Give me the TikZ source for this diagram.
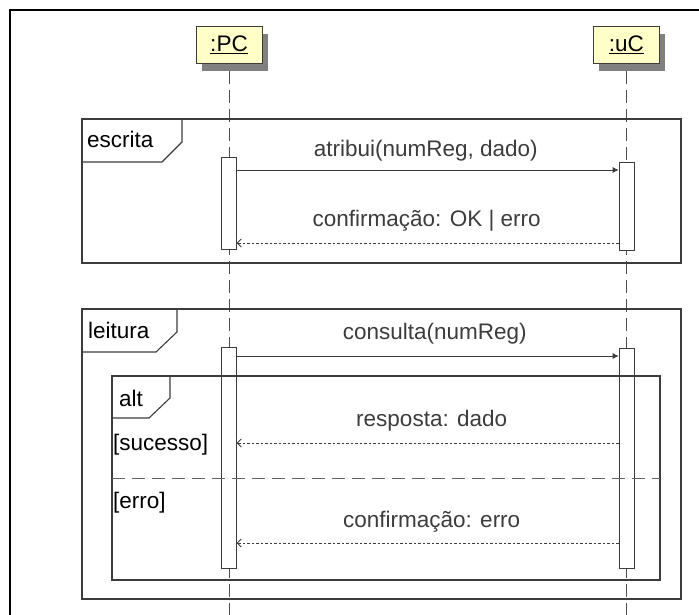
\documentclass[tikz,border=0pt]{standalone}
\usepackage{fontspec}
\setmainfont{Liberation Sans}
\usetikzlibrary{arrows.meta,positioning,shadows}
\definecolor{headyellow}{HTML}{FFFFC8}
\definecolor{seqgray}{HTML}{3C3C3C}
\newcommand{\seqfont}{\fontsize{22.5}{27}\selectfont}
\tikzset{
    seqhead/.style={draw=seqgray, fill=headyellow, minimum width=66pt, minimum height=37pt,
        inner sep=0pt, font=\seqfont,
        drop shadow={shadow xshift=6pt, shadow yshift=-8pt, fill=black!50, opacity=1}},
    seqact/.style={draw=seqgray, fill=white, minimum width=15pt, inner sep=0pt, anchor=north},
    seqlife/.style={seqgray!90, line width=1pt, dash pattern=on 13pt off 6pt},
    seqframe/.style={draw=seqgray, line width=1.1pt},
    seqarrow/.style={-{Latex[length=6pt,width=6pt]}, line width=0.9pt, seqgray},
    seqreply/.style={-{Straight Barb[length=4pt,width=8pt]}, line width=0.8pt, seqgray,
        dash pattern=on 2.5pt off 2pt},
    seqtxt/.style={font=\seqfont, inner sep=0pt, anchor=base}
}

\begin{document}
\begin{tikzpicture}[x=1pt, y=-1pt]
\useasboundingbox (0,0) rectangle (699,615);
\draw[line width=2pt] (10,615) -- (10,10) -- (699,10);
\coordinate (bottom) at (0,615);

% lifelines
\node[seqhead] (pc) at (229,44.5) {\underline{:PC}};
\node[seqhead, right=331pt of pc] (uc) {\underline{:uC}};
\draw[seqlife] ([yshift=-8pt]pc.south) -- (pc |- bottom);
\draw[seqlife] ([yshift=-8pt]uc.south) -- (uc |- bottom);

% activations
\node[seqact, minimum height=92pt] (pcw) at (pc |- 0,157) {};
\node[seqact, minimum height=88pt] (ucw) at (uc |- 0,162) {};
\node[seqact, minimum height=221pt] (pcr) at (pc |- 0,347) {};
\node[seqact, minimum height=220pt] (ucr) at (uc |- 0,348) {};

% frame escrita
\draw[seqframe] (82,119) rectangle (681,263);
\draw[seqframe] (82,162) -- (162,162) -- (182,142) -- (182,119);
\node[seqtxt, anchor=base west] (escrita) at (87,148) {escrita};

% frame leitura
\draw[seqframe] (82,309) rectangle (681,599);
\draw[seqframe] (82,352) -- (156,352) -- (177,332) -- (177,309);
\node[seqtxt, anchor=base west] (leitura) at (88,338) {leitura};

% frame alt
\draw[seqframe] (112,376) rectangle (660,580);
\draw[seqframe] (112,418) -- (149,418) -- (170,398) -- (170,376);
\node[seqtxt, anchor=base west] (alt) at (119,406) {alt};
\draw[seqgray!80, line width=1pt, dash pattern=on 13pt off 7pt] (112,478) -- (660,478);
\node[seqtxt, anchor=base west] (sucesso) at (113,450) {[sucesso]};
\node[seqtxt, anchor=base west] (erro) at (113,508) {[erro]};

% messages
\coordinate (m1) at (0,170);
\coordinate (m2) at (0,243);
\coordinate (m3) at (0,356);
\coordinate (m4) at (0,443);
\coordinate (m5) at (0,543);
\draw[seqarrow] (pcw.east |- m1) -- (ucw.west |- m1)
    node[seqtxt, midway, yshift=13pt, xshift=-2pt] {atribui(numReg, dado)};
\draw[seqreply] (ucw.west |- m2) -- (pcw.east |- m2)
    node[seqtxt, midway, yshift=17pt, xshift=-1pt] {confirmação: OK | erro};
\draw[seqarrow] (pcr.east |- m3) -- (ucr.west |- m3)
    node[seqtxt, midway, yshift=17pt, xshift=7pt] {consulta(numReg)};
\draw[seqreply] (ucr.west |- m4) -- (pcr.east |- m4)
    node[seqtxt, midway, yshift=17pt, xshift=4pt] {resposta: dado};
\draw[seqreply] (ucr.west |- m5) -- (pcr.east |- m5)
    node[seqtxt, midway, yshift=16pt, xshift=4pt] {confirmação: erro};
\end{tikzpicture}
\end{document}
